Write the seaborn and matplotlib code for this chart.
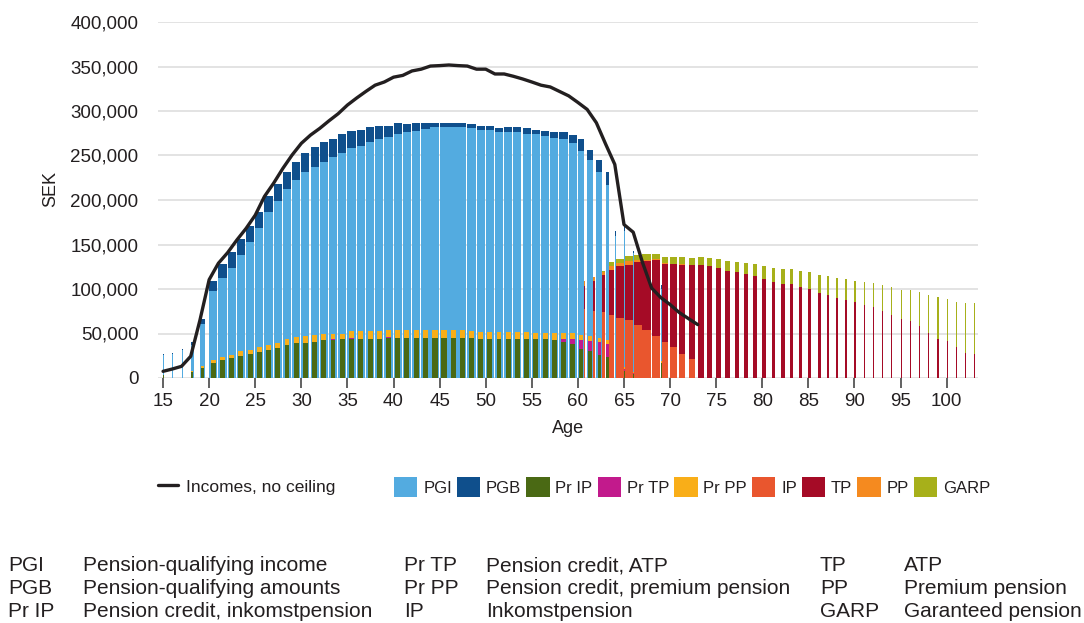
import numpy as np
import matplotlib
matplotlib.use("Agg")
import matplotlib.pyplot as plt
from matplotlib.patches import Patch
from matplotlib.lines import Line2D
from matplotlib.ticker import FuncFormatter
import seaborn as sns

sns.set_theme(style="white")
plt.rcParams['font.family'] = ['Liberation Sans', 'DejaVu Sans']

# ---- data (thousand SEK) ----
# working ages, 15..69
work_ages = np.arange(15, 70)
pgi = [26, 27, 31, 37.5, 61,
       98, 112.8, 124, 138.7, 153, 168, 186, 199.4, 211.8, 222,
       232, 237.6, 243, 247.8, 253, 257.9, 261, 265.7, 269, 271,
       274.7, 275.9, 278, 280, 281.5, 281.5, 281.5, 281.5, 280.4, 279,
       279, 275.9, 275.9, 275.9, 274.7, 273.6, 271.4, 270.2, 268, 264.6,
       254.5, 245.5, 232, 216.3, 159, 165, 140, 0, 0, 100]
pgb = [1.5, 1.5, 2, 2.5, 5.7,
       11, 15.8, 18, 18, 18, 18.7, 18, 19.1, 19.2, 20.5,
       20.6, 21.4, 22, 21.2, 21, 19.1, 18, 15.8, 14.7, 12.7,
       11.3, 9.1, 8, 7, 5.5, 4.5, 4.5, 4.5, 4.5, 4.7,
       4.7, 4.5, 5.6, 5.6, 5.7, 5.6, 6.6, 6.7, 7.9, 7.9,
       14.5, 11.2, 12.4, 14.6, 6, 6, 3, 0, 0, 5]
pr_ip = [3, 3, 4, 6.4, 11,
         17, 20.6, 23, 25, 27, 29.6, 32, 34, 36.7, 39,
         39.7, 40.9, 42.4, 42.4, 43.5, 43.5, 44, 44, 44, 44.5,
         45.4, 45.4, 45.4, 45.4, 45.4, 45.4, 45.4, 45.4, 45, 44.2,
         44.2, 44.2, 44.2, 44, 44, 43.5, 43.5, 43, 40.9, 38.6,
         33, 30.7, 26.2, 23.2, 10, 8, 5, 0, 0, 17]
pr_tp = [0, 1, 0, 0, 0,
         0, 0, 0, 0, 0, 0, 0, 0, 0.8, 0,
         0, 0, 0, 1.1, 0, 1.1, 0, 0, 0, 1.2,
         0, 0, 0, 0, 0, 0, 0, 0, 0, 0,
         0, 0, 0, 0, 0, 0, 0, 0, 3.3, 5.6,
         10, 11.3, 14.7, 15.4, 3, 2, 1, 0, 0, 0]
pr_pp = [0.5, 0.5, 0.5, 1.1, 2,
         3.6, 3.4, 3, 5, 5, 4.9, 5.5, 5.7, 6, 6.7,
         7.2, 7.1, 6.6, 6.5, 6.5, 7.9, 8.5, 8.5, 8.5, 7.9,
         8.2, 8.2, 8.2, 8.2, 8.2, 8.2, 8.2, 8.2, 8, 7.8,
         7.8, 7.8, 7.8, 7.8, 7.5, 7.5, 7.5, 8, 6.8, 6.8,
         5.7, 5.6, 4.5, 4.4, 2, 2, 1, 0, 0, 2]
# share of the population in work (bar width)
work_share = [0.12, 0.12, 0.12, 0.36, 0.6,
              0.87, 0.9, 0.88, 0.88, 0.88, 0.88, 0.88, 0.88, 0.88, 0.88,
              0.88, 0.88, 0.88, 0.88, 0.88, 0.88, 0.88, 0.9, 0.9, 0.9,
              0.9, 0.9, 0.9, 0.97, 0.97, 0.97, 0.97, 0.9, 0.9, 0.9,
              0.9, 0.88, 0.88, 0.88, 0.88, 0.88, 0.88, 0.88, 0.88, 0.88,
              0.65, 0.62, 0.65, 0.4, 0.08, 0.07, 0.07, 0, 0, 0.1]

# retired ages, 60..103
ret_ages = np.arange(60, 104)
ip = [78, 75.7, 73.8, 71.2, 67, 64.8, 59.2, 53.6, 47.6, 40.1,
      34.3, 27.4, 21.7, 0, 0, 0, 0, 0, 0, 0,
      0, 0, 0, 0, 0, 0, 0, 0, 0, 0,
      0, 0, 0, 0, 0, 0, 0, 0, 0, 0,
      0, 0, 0, 0]
tp = [25, 33, 41.6, 49.8, 58.6, 62.6, 70.8, 77.6, 84.7, 88.5,
      93.5, 100, 105.7, 127.4, 126.3, 124, 120.7, 119.6, 117.3, 115,
      111.7, 108.3, 106, 106, 102.7, 100.4, 96, 93.7, 90.3, 88,
      85.8, 82.5, 80.2, 75.7, 71.2, 66.7, 64.5, 58.8, 51, 44.2,
      42, 35.2, 28.5, 27.4]
pp = [5.7, 5.3, 4.2, 4.6, 3.7, 3.6, 2.3, 1.8, 1.1, 0.7,
      0.3, 0.2, 0, 0, 0, 0, 0, 0, 0, 0,
      0, 0, 0, 0, 0, 0, 0, 0, 0, 0,
      0, 0, 0, 0, 0, 0, 0, 0, 0, 0,
      0, 0, 0, 0]
garp = [0, 0, 1, 4.4, 4.7, 5.8, 6.4, 6, 6.4, 7.1,
        7.5, 7.9, 7.9, 9, 9, 10.2, 11.2, 11.2, 12.4, 13.6,
        14.6, 15.7, 17, 17, 18, 19.2, 20.2, 21.3, 22.5, 23.7,
        23.6, 25.8, 27, 29.2, 31.5, 32.6, 34.8, 38.3, 42.7, 47.3,
        47.2, 50.6, 56.2, 57.3]
ret_share = [0.15, 0.2, 0.3, 0.55, 0.9, 0.93, 0.93, 0.97, 0.9, 0.72,
             0.72, 0.65, 0.65, 0.69, 0.58, 0.54, 0.5, 0.5, 0.47, 0.43,
             0.42, 0.43, 0.43, 0.36, 0.33, 0.33, 0.33, 0.25, 0.22, 0.22,
             0.18, 0.13, 0.12, 0.12, 0.12, 0.12, 0.12, 0.12, 0.12, 0.12,
             0.12, 0.12, 0.12, 0.12]

# incomes, no ceiling
line_ages = np.arange(15, 74)
line_vals = [7.5, 10.1, 13.1, 24.4, 65, 110.5, 128.9, 140.8, 155, 168,
             183, 204, 219, 235.6, 250.6, 263.7, 273, 280.5, 289, 297,
             306.7, 314.6, 322, 329, 332.6, 338, 340, 345, 347, 350.5,
             351, 351.7, 351, 350.5, 347, 347, 341.6, 341.6, 339, 336,
             332.6, 329, 327, 322, 317, 309.6, 301.8, 286.8, 263, 240,
             172.4, 163.8, 130, 101, 90.3, 82.5, 73.5, 66.7, 60]

glossary = [
    [("PGI", "Pension-qualifying income"), ("Pr TP", "Pension credit, ATP"), ("TP", "ATP")],
    [("PGB", "Pension-qualifying amounts"), ("Pr PP", "Pension credit, premium pension"), ("PP", "Premium pension")],
    [("Pr IP", "Pension credit, inkomstpension"), ("IP", "Inkomstpension"), ("GARP", "Garanteed pension")],
]

colors = {
    "PGI": "#53abe0", "PGB": "#0f4f8c", "Pr IP": "#4a6914", "Pr TP": "#c21a8c",
    "Pr PP": "#f9ae18", "IP": "#e9562e", "TP": "#a50b26", "PP": "#f58a1f",
    "GARP": "#a7b01a",
}
txt = "#231f20"

k = 1000
pgi = np.array(pgi) * k
pgb = np.array(pgb) * k
pr_ip = np.array(pr_ip) * k
pr_tp = np.array(pr_tp) * k
pr_pp = np.array(pr_pp) * k
work_share = np.array(work_share)
ip = np.array(ip) * k
tp = np.array(tp) * k
pp = np.array(pp) * k
garp = np.array(garp) * k
ret_share = np.array(ret_share)

fig = plt.figure(figsize=(10.84, 6.23), dpi=100)
ax = fig.add_axes([158 / 1084, 1 - 378 / 623, 820 / 1084, 356 / 623])

# working population: income bars
ax.bar(work_ages, pgi, width=work_share, align="edge", color=colors["PGI"], lw=0, zorder=2)
ax.bar(work_ages, pgb, bottom=pgi, width=work_share, align="edge", color=colors["PGB"], lw=0, zorder=2)

# pension credits drawn as narrower bars on top of the income bars
cx = work_ages + work_share / 2
cw = work_share * 0.6
ax.bar(cx, pr_ip, width=cw, color=colors["Pr IP"], lw=0, zorder=3)
ax.bar(cx, pr_tp, bottom=pr_ip, width=cw, color=colors["Pr TP"], lw=0, zorder=3)
ax.bar(cx, pr_pp, bottom=pr_ip + pr_tp, width=cw, color=colors["Pr PP"], lw=0, zorder=3)

# retired population: pensions, placed right after the working bar of the same age
offset = np.array([work_share[list(work_ages).index(a)] if a in work_ages else 0 for a in ret_ages])
rx = ret_ages + offset
ax.bar(rx, ip, width=ret_share, align="edge", color=colors["IP"], lw=0, zorder=3)
ax.bar(rx, tp, bottom=ip, width=ret_share, align="edge", color=colors["TP"], lw=0, zorder=3)
ax.bar(rx, pp, bottom=ip + tp, width=ret_share, align="edge", color=colors["PP"], lw=0, zorder=3)
ax.bar(rx, garp, bottom=ip + tp + pp, width=ret_share, align="edge", color=colors["GARP"], lw=0, zorder=3)

sns.lineplot(x=line_ages, y=np.array(line_vals) * k, color=txt, lw=2.4, ax=ax, zorder=5, legend=False)

ax.set_xlim(14.45, 103.4)
ax.set_ylim(0, 400000)
ax.set_xticks(range(15, 101, 5))
ax.set_yticks(range(0, 400001, 50000))
ax.yaxis.set_major_formatter(FuncFormatter(lambda v, p: f"{v:,.0f}"))
ax.yaxis.grid(True, color="#e1e1e1", lw=1.3)
ax.xaxis.grid(False)
ax.set_axisbelow(True)
for s in ax.spines.values():
    s.set_visible(False)
ax.tick_params(axis="x", bottom=True, length=7, width=1.3, color="#555555", direction="out",
               pad=4, labelsize=13.5, labelcolor=txt)
ax.tick_params(axis="y", left=False, length=0, pad=14, labelsize=13.5, labelcolor=txt)
ax.set_xlabel("")
ax.set_ylabel("")

fig.text(51 / 1084, 1 - 189 / 623, "SEK", rotation=90, ha="center", va="center", fontsize=13, color=txt)
fig.text(568 / 1084, 1 - 433 / 623, "Age", ha="center", va="baseline", fontsize=13, color=txt)

# legends
line_handle = [Line2D([], [], color=txt, lw=2.4)]
fig.legend(line_handle, ["Incomes, no ceiling"], loc="center left",
           bbox_to_anchor=(158 / 1084, 1 - 487 / 623), frameon=False, borderpad=0,
           borderaxespad=0, handlelength=1.14, handletextpad=0.48, fontsize=12.5,
           labelcolor=txt)
names = ["PGI", "PGB", "Pr IP", "Pr TP", "Pr PP", "IP", "TP", "PP", "GARP"]
patches = [Patch(facecolor=colors[n], lw=0) for n in names]
fig.legend(patches, names, loc="center left", ncol=9,
           bbox_to_anchor=(394 / 1084, 1 - 487 / 623), frameon=False, borderpad=0,
           borderaxespad=0, handlelength=1.4, handleheight=1.4, handletextpad=0.35,
           columnspacing=0.3, fontsize=12, labelcolor=txt)

# glossary below the chart
col_x = [(8, 83), (404, 486), (820, 904)]
row_y = [571, 594, 617]
for r, row in enumerate(glossary):
    for c, (abbr, desc) in enumerate(row):
        fig.text(col_x[c][0] / 1084, 1 - row_y[r] / 623, abbr, ha="left", va="baseline",
                 fontsize=15, color=txt)
        fig.text(col_x[c][1] / 1084, 1 - row_y[r] / 623, desc, ha="left", va="baseline",
                 fontsize=15, color=txt)

fig.savefig("out.png", dpi=100)
